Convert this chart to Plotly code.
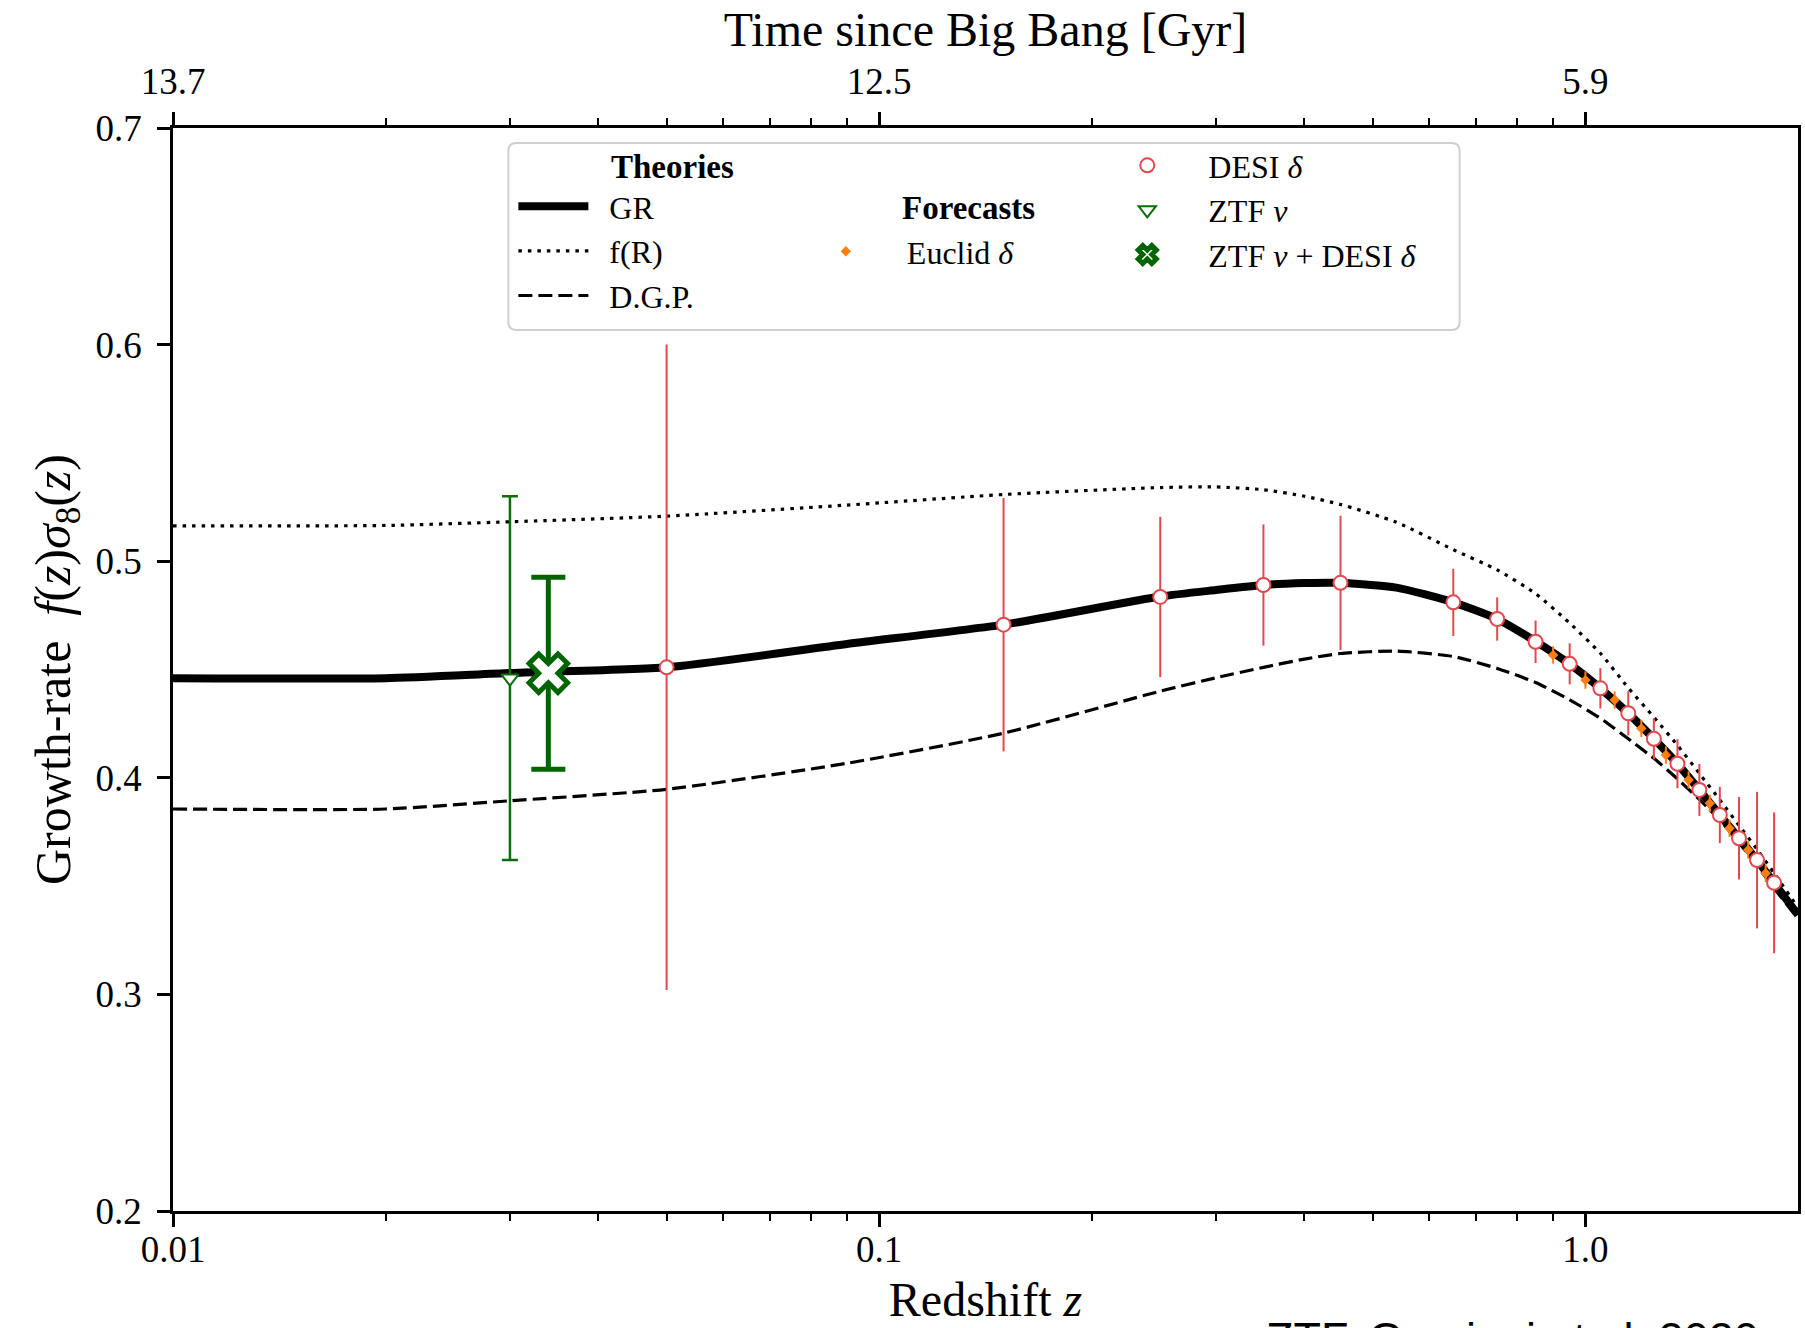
import plotly.graph_objects as go

# ---------------- data ----------------
z_curve = [0.01, 0.02, 0.03, 0.05, 0.09, 0.15, 0.25, 0.30, 0.35, 0.40, 0.45, 0.54,
           0.65, 0.75, 0.85, 0.95, 1.05, 1.15, 1.25, 1.35, 1.45, 1.55, 1.65, 1.75, 1.85, 2.0]
gr_curve = [0.446, 0.446, 0.4484, 0.451, 0.4618, 0.4707, 0.4837, 0.4867, 0.489, 0.4899, 0.4900, 0.4878,
            0.481, 0.4733, 0.4630, 0.4525, 0.4413, 0.4298, 0.418, 0.4065, 0.3944, 0.3828, 0.3721, 0.362, 0.3515, 0.3367]
fr_curve = [0.5163, 0.5165, 0.5182, 0.5208, 0.5259, 0.5308, 0.534, 0.5343, 0.533, 0.5300, 0.5262, 0.5180,
            0.5053, 0.4960, 0.485, 0.4714, 0.4575, 0.4415, 0.428, 0.415, 0.402, 0.3898, 0.378, 0.367, 0.356, 0.340]
dgp_curve = [0.3856, 0.3856, 0.3894, 0.3947, 0.4067, 0.4206, 0.440, 0.4462, 0.451, 0.4548, 0.4574, 0.4585,
             0.4560, 0.4505, 0.4440, 0.4360, 0.4275, 0.418, 0.409, 0.3995, 0.390, 0.3805, 0.370, 0.3595, 0.349, 0.335]

desi_z = [0.05, 0.15, 0.25, 0.35, 0.45, 0.65, 0.75, 0.85, 0.95, 1.05, 1.15, 1.25, 1.35, 1.45, 1.55, 1.65, 1.75, 1.85]
desi_val = [0.451, 0.4707, 0.4835, 0.489, 0.490, 0.481, 0.4733, 0.4628, 0.4526, 0.4413, 0.4298, 0.418,
            0.4065, 0.3944, 0.3828, 0.3721, 0.362, 0.3515]
desi_err = [0.149, 0.0585, 0.037, 0.028, 0.031, 0.0155, 0.010, 0.0098, 0.0095, 0.0093, 0.0102, 0.0095,
            0.0113, 0.012, 0.013, 0.019, 0.0315, 0.0325]

euclid_z = [0.9, 1.0, 1.1, 1.2, 1.3, 1.4, 1.5, 1.6, 1.7, 1.8]
euclid_val = [0.4567, 0.4451, 0.4359, 0.4228, 0.4105, 0.399, 0.3882, 0.3767, 0.3667, 0.3559]
euclid_err = [0.004, 0.004, 0.004, 0.004, 0.004, 0.004, 0.004, 0.004, 0.004, 0.004]

ztf_z = [0.03]
ztf_val = [0.446]
ztf_err = [0.084]

comb_z = [0.034]
comb_val = [0.4483]
comb_err = [0.0443]

bottom_ticks = [0.01, 0.1, 1.0]
bottom_labels = ["0.01", "0.1", "1.0"]
top_labels = ["13.7", "12.5", "5.9"]
minor_ticks = [0.02, 0.03, 0.04, 0.05, 0.06, 0.07, 0.08, 0.09,
               0.2, 0.3, 0.4, 0.5, 0.6, 0.7, 0.8, 0.9]
y_ticks = [0.2, 0.3, 0.4, 0.5, 0.6, 0.7]

# ---------------- figure ----------------
W, H = 1805, 1328
L, R, T, B = 173, 4, 128, 117
PW, PH = W - L - R, H - T - B


def px(X):
    return (X - L) / PW


def py(Y):
    return (H - B - Y) / PH


SERIF = "Liberation Serif, Times New Roman, serif"
RED = "rgb(226,72,78)"
GREEN1 = "#0b6e0b"
GREEN2 = "#006400"
ORANGE = "#ff7f0e"
SP = "\u2002"

fig = go.Figure()

fig.add_trace(go.Scatter(x=z_curve, y=gr_curve, mode="lines", name=SP + "GR",
                         line=dict(color="black", width=8, shape="spline", smoothing=0.6),
                         legend="legend"))
fig.add_trace(go.Scatter(x=z_curve, y=fr_curve, mode="lines", name=SP + "f(R)",
                         line=dict(color="black", width=3.2, dash="3.5px,6px", shape="spline",
                                   smoothing=0.6), legend="legend"))
fig.add_trace(go.Scatter(x=z_curve, y=dgp_curve, mode="lines", name=SP + "D.G.P.",
                         line=dict(color="black", width=3.2, dash="14px,6px", shape="spline",
                                   smoothing=0.6), legend="legend"))

fig.add_trace(go.Scatter(x=euclid_z, y=euclid_val, mode="markers", name=SP + "Euclid <i>δ</i>",
                         marker=dict(color=ORANGE, size=8, symbol="diamond"),
                         error_y=dict(type="data", array=euclid_err, color=ORANGE, thickness=2, width=0),
                         legend="legend2"))

fig.add_trace(go.Scatter(x=desi_z, y=desi_val, mode="markers", name=SP + "DESI <i>δ</i>",
                         marker=dict(color="white", size=14, symbol="circle",
                                     line=dict(color=RED, width=2)),
                         error_y=dict(type="data", array=desi_err, color=RED, thickness=2, width=0),
                         legend="legend3"))

fig.add_trace(go.Scatter(x=ztf_z, y=ztf_val, mode="markers", name=SP + "ZTF <i>v</i>",
                         marker=dict(color="white", size=15, symbol="triangle-down",
                                     line=dict(color=GREEN1, width=2)),
                         error_y=dict(type="data", array=ztf_err, color=GREEN1, thickness=2.5, width=8),
                         legend="legend3"))

fig.add_trace(go.Scatter(x=comb_z, y=comb_val, mode="markers", name=SP + "ZTF <i>v</i> + DESI <i>δ</i>",
                         marker=dict(color="white", size=34, symbol="x",
                                     line=dict(color=GREEN2, width=5)),
                         error_y=dict(type="data", array=comb_err, color=GREEN2, thickness=5, width=17),
                         legend="legend3"))

# dummy trace for top axis
fig.add_trace(go.Scatter(x=[bottom_ticks[0], bottom_ticks[-1]], y=[None, None], xaxis="x2",
                         showlegend=False, hoverinfo="skip"))

# legend frame (rounded)
x0, x1, y0, y1 = px(509), px(1462), py(330), py(143)
rx, ry = 8 / PW, 8 / PH
path = (f"M {x0+rx},{y1} L {x1-rx},{y1} Q {x1},{y1} {x1},{y1-ry} "
        f"L {x1},{y0+ry} Q {x1},{y0} {x1-rx},{y0} L {x0+rx},{y0} "
        f"Q {x0},{y0} {x0},{y0+ry} L {x0},{y1-ry} Q {x0},{y1} {x0+rx},{y1} Z")
fig.add_shape(type="path", path=path, xref="paper", yref="paper",
              line=dict(color="#d0d0d0", width=2), fillcolor="rgba(255,255,255,0.85)", layer="above")

leg_font = dict(family=SERIF, size=32, color="black")
head_font = dict(family=SERIF, size=33, color="black")
leg_common = dict(bgcolor="rgba(0,0,0,0)", borderwidth=0, font=leg_font,
                  xanchor="left", yanchor="top", tracegroupgap=0)

axis_font = dict(family=SERIF, size=37, color="black")
title_font = dict(family=SERIF, size=48, color="black")

fig.update_layout(
    width=W, height=H,
    margin=dict(l=L, r=R, t=T, b=B, pad=0),
    paper_bgcolor="white", plot_bgcolor="white",
    font=dict(family=SERIF, color="black"),
    legend=dict(x=px(514), y=py(179), itemwidth=70, **leg_common),
    legend2=dict(x=px(802), y=py(224), itemwidth=80, **leg_common),
    legend3=dict(x=px(1104), y=py(138), itemwidth=80, **leg_common),
    xaxis=dict(type="log", range=[-2, 0.30103], tickmode="array", tickvals=bottom_ticks,
               ticktext=bottom_labels, ticks="outside", ticklen=13, tickwidth=2.5,
               tickcolor="black", showline=True, linecolor="black", linewidth=2.5,
               mirror=False, showgrid=False, zeroline=False, tickfont=axis_font,
               ticklabelstandoff=-9,
               minor=dict(tickmode="array", tickvals=minor_ticks, ticks="outside",
                          ticklen=7, tickwidth=2, tickcolor="black", showgrid=False),
               title=dict(text="Redshift <i>z</i>", font=title_font, standoff=14)),
    xaxis2=dict(type="log", range=[-2, 0.30103], overlaying="x", side="top", anchor="y",
                tickmode="array", tickvals=bottom_ticks, ticktext=top_labels,
                ticks="outside", ticklen=13, tickwidth=2.5, tickcolor="black",
                showline=True, linecolor="black", linewidth=2.5, showgrid=False,
                zeroline=False, tickfont=axis_font, ticklabelstandoff=3,
                minor=dict(tickmode="array", tickvals=minor_ticks, ticks="outside",
                           ticklen=7, tickwidth=2, tickcolor="black", showgrid=False),
                title=dict(text="Time since Big Bang [Gyr]", font=title_font, standoff=0)),
    yaxis=dict(range=[0.2, 0.7], tickmode="array", tickvals=y_ticks,
               ticktext=[f"{v:.1f}" for v in y_ticks], ticks="outside", ticklen=13,
               tickwidth=2.5, tickcolor="black", showline=True, linecolor="black",
               linewidth=2.5, mirror=True, showgrid=False, zeroline=False, tickfont=axis_font,
               ticklabelstandoff=8,
               title=dict(text="Growth-rate  <i>f</i>(<i>z</i>)<i>σ</i><sub>8</sub>(<i>z</i>)",
                          font=dict(family=SERIF, size=50, color="black"), standoff=10)),
    annotations=[
        dict(text="<b>Theories</b>", x=px(610), y=py(167), xref="paper", yref="paper",
             xanchor="left", yanchor="middle", showarrow=False, font=head_font),
        dict(text="<b>Forecasts</b>", x=px(901), y=py(208), xref="paper", yref="paper",
             xanchor="left", yanchor="middle", showarrow=False, font=head_font),
        dict(text="ZTF, Graziani et al. 2020", x=px(1266), y=py(1311), xref="paper", yref="paper",
             xanchor="left", yanchor="top", showarrow=False,
             font=dict(family="Liberation Sans, Arial, sans-serif", size=45, color="black")),
    ],
)

fig.write_html("out.html")
